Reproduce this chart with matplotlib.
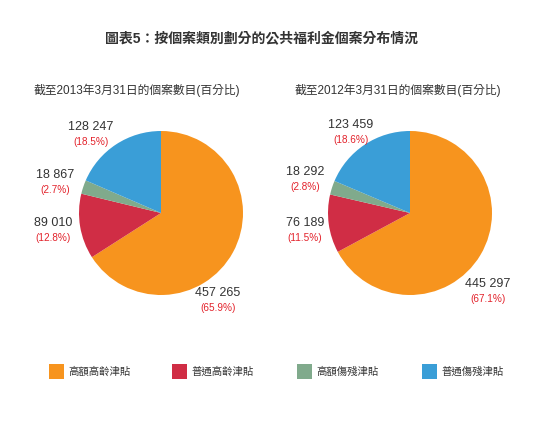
import matplotlib
matplotlib.use("Agg")
import matplotlib.pyplot as plt
from matplotlib.patches import Rectangle

plt.rcParams['font.family'] = ['Liberation Sans', 'Noto Sans CJK TC', 'DejaVu Sans']

title = "圖表5：按個案類別劃分的公共福利金個案分布情況"
subtitles = ["截至2013年3月31日的個案數目(百分比)", "截至2012年3月31日的個案數目(百分比)"]
categories = ["高額高齡津貼", "普通高齡津貼", "高額傷殘津貼", "普通傷殘津貼"]
colors = ["#F7941E", "#D02D45", "#80AA8C", "#3A9ED7"]
cases_2013 = [457265, 89010, 18867, 128247]
cases_2012 = [445297, 76189, 18292, 123459]
pct_2013 = ["65.9%", "12.8%", "2.7%", "18.5%"]
pct_2012 = ["67.1%", "11.5%", "2.8%", "18.6%"]

W, H = 537, 424
fig = plt.figure(figsize=(W / 100, H / 100), dpi=100)
fig.patch.set_facecolor("white")

def px(x, y):
    return x / W, 1 - y / H

def fmt(v):
    return "{:,}".format(v).replace(",", " ")

fig.text(*px(262, 39), title, ha="center", va="center", fontsize=10,
         fontweight="bold", color="#333333")

# pie centres / radius in pixels
centres = [(161, 213), (410, 213)]
r = 82
# label anchors per slice (pixels), order as categories
label_pos = [
    [(218, 293), (53, 223), (55, 175), (91, 127)],
    [(488, 284), (305, 223), (305, 172), (351, 125)],
]
sub_x = [137, 398]

for i, (vals, pcts) in enumerate([(cases_2013, pct_2013), (cases_2012, pct_2012)]):
    cx, cy = centres[i]
    ax = fig.add_axes([(cx - r) / W, (H - cy - r) / H, 2 * r / W, 2 * r / H])
    ax.pie(vals, colors=colors, startangle=90, counterclock=False,
           wedgeprops=dict(linewidth=0))
    ax.set_xlim(-1, 1)
    ax.set_ylim(-1, 1)
    ax.axis("off")
    fig.text(*px(sub_x[i], 90), subtitles[i], ha="center", va="center",
             fontsize=8.5, color="#333333")
    for v, p, (lx, ly) in zip(vals, pcts, label_pos[i]):
        fig.text(*px(lx, ly), fmt(v), ha="center", va="center",
                 fontsize=9, color="#333333")
        fig.text(*px(lx, ly + 15), "(" + p + ")", ha="center", va="center",
                 fontsize=7.2, color="#E3232C")

# legend
leg_x = [49, 172, 297, 422]
for lx, c, name in zip(leg_x, colors, categories):
    x0, y0 = px(lx, 379)
    fig.patches.append(Rectangle((x0, y0), 15 / W, 15 / H, transform=fig.transFigure,
                                 facecolor=c, edgecolor="none"))
    fig.text(*px(lx + 19, 372), name, ha="left", va="center", fontsize=7.5,
             color="#333333")

fig.savefig("out.png", dpi=100)
